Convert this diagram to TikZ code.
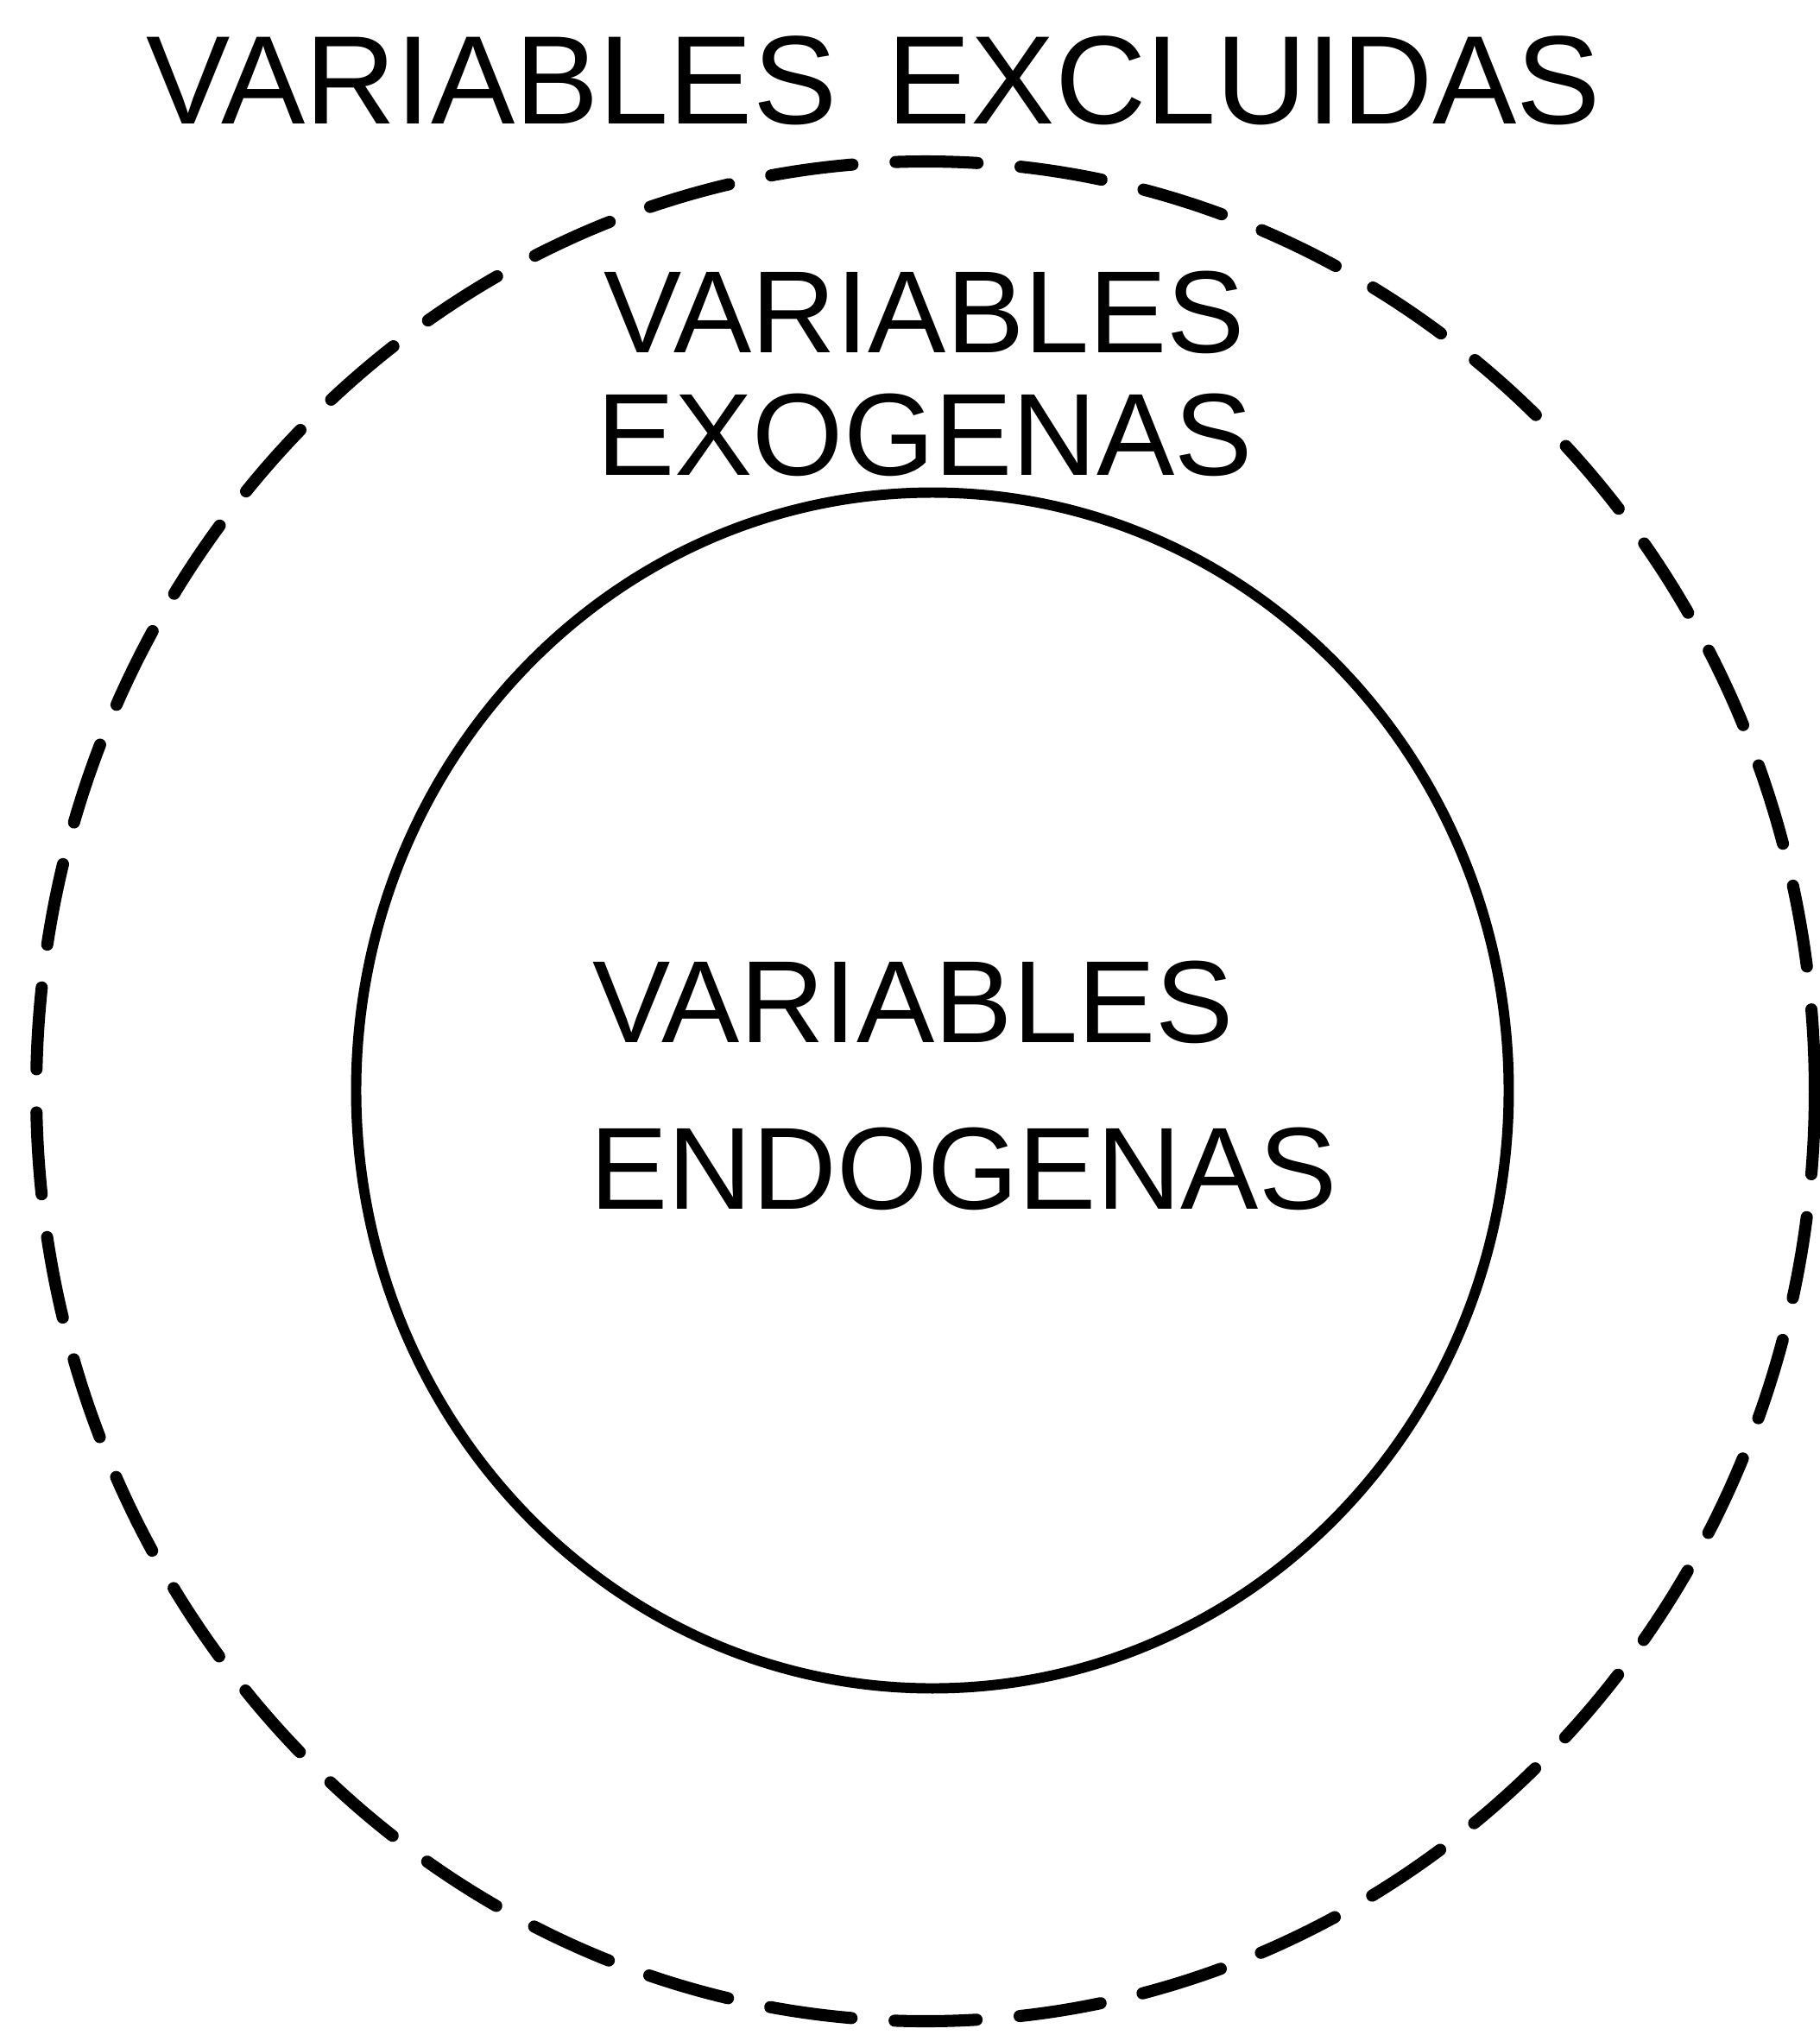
\documentclass[tikz,border=0pt]{standalone}
\usepackage{fontspec}
\setmainfont{Liberation Sans}
\usetikzlibrary{shapes.geometric}

\tikzstyle{outerring} = [
ellipse,
minimum width=20.6cm,
minimum height=21.54cm,
inner sep=0pt,
draw=black,
line width=4pt,
line cap=round,
dash pattern=on 0.95cm off 0.5cm
]
\tikzstyle{innerring} = [
ellipse,
minimum width=13.35cm,
minimum height=13.85cm,
inner sep=0pt,
draw=black,
line width=3.4pt
]
\tikzstyle{titletext} = [
inner sep=0pt,
anchor=base,
font=\fontsize{41.5pt}{48pt}\selectfont
]
\tikzstyle{ringtext} = [
inner sep=0pt,
font=\fontsize{38.5pt}{44pt}\selectfont
]

\begin{document}
\begin{tikzpicture}

\useasboundingbox (0,0) rectangle (21.08,-23.57);

% Rings
\node (excluidas) [outerring] at (10.72,-12.64) {};
\node (endogenas) [innerring] at (10.80,-12.63) {};

% Texts
\node (title) [titletext] at (10.12,-1.43)
{VARIABLES\hspace{0.4em}EXCLUIDAS};

\node (exoA) [ringtext, anchor=base] at (10.71,-4.08) {VARIABLES};
\node (exoB) [ringtext, anchor=base] at (10.71,-5.50) {EXOGENAS};

\node (endoA) [ringtext, anchor=base west] at (6.86,-12.07) {VARIABLES};
\node (endoB) [ringtext, anchor=base west] at (6.83,-14.00) {ENDOGENAS};

\end{tikzpicture}
\end{document}
